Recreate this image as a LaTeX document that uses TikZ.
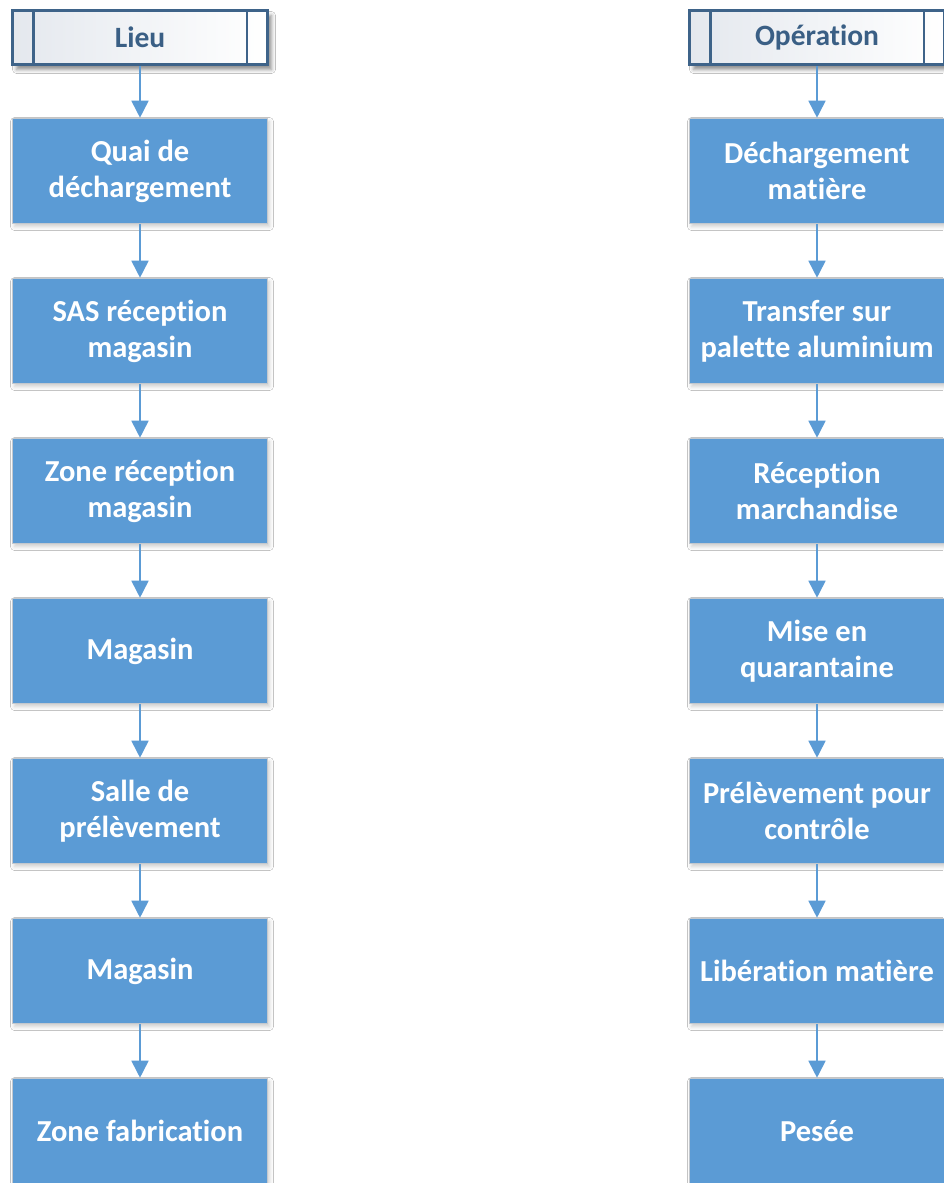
\documentclass[tikz,border=0pt]{standalone}
\usepackage{fontspec}
\setmainfont{Carlito}[Ligatures=NoCommon]
\usetikzlibrary{arrows.meta,shadows.blur,calc}
\definecolor{boxblue}{HTML}{5B9BD5}
\definecolor{boxedge}{HTML}{C3C8CE}
\definecolor{headedge}{HTML}{3E6389}
\definecolor{headtext}{HTML}{3A5F85}
\definecolor{headgray}{HTML}{E4E8EE}
\tikzset{
  x=1pt, y=-1pt,
  stepbox/.style={draw=boxedge, line width=1.6pt, fill=boxblue,
    minimum width=255pt, minimum height=105pt, inner sep=0pt,
    align=center, text=white,
    font=\fontsize{30.5}{36}\selectfont\bfseries,
    blur shadow={shadow xshift=2pt, shadow yshift=-3pt, shadow blur radius=4pt, shadow opacity=20}},
  headbox/.style={draw=headedge, line width=2.8pt,
    left color=headgray, right color=white,
    minimum width=255pt, minimum height=54pt, inner sep=0pt,
    text=headtext, font=\fontsize{29.5}{34}\selectfont\bfseries,
    blur shadow={shadow xshift=4pt, shadow yshift=-5pt, shadow blur radius=4pt, shadow opacity=45}},
  headbar/.style={draw=headedge, line width=2.8pt},
  flow/.style={draw=boxblue, line width=1.7pt, -{Triangle[width=17pt,length=17pt]}}
}
\begin{document}
\begin{tikzpicture}
\useasboundingbox[fill=white] (0,0) rectangle (943,1183);

% Column headers
\node[headbox] (hl) at (140,37.5) {Lieu};
\node[headbox] (hr) at (817,37.5) {Opération};
\foreach \h in {hl,hr}{
  \draw[headbar] ($(\h.north west)+(22,0)$) -- ($(\h.south west)+(22,0)$);
  \draw[headbar] ($(\h.north east)+(-22,0)$) -- ($(\h.south east)+(-22,0)$);
}

% Places
\node[stepbox] (l1) at (140,171) {Quai de\\déchargement};
\node[stepbox] (l2) at (140,331) {SAS réception\\magasin};
\node[stepbox] (l3) at (140,491) {Zone réception\\magasin};
\node[stepbox] (l4) at (140,651) {Magasin};
\node[stepbox] (l5) at (140,811) {Salle de\\prélèvement};
\node[stepbox] (l6) at (140,971) {Magasin};
\node[stepbox] (l7) at (140,1131) {Zone fabrication};

% Operations
\node[stepbox] (r1) at (817,171) {Déchargement\\matière};
\node[stepbox] (r2) at (817,331) {Transfer sur\\palette aluminium};
\node[stepbox] (r3) at (817,491) {Réception\\marchandise};
\node[stepbox] (r4) at (817,651) {Mise en\\quarantaine};
\node[stepbox] (r5) at (817,811) {Prélèvement pour\\contrôle};
\node[stepbox] (r6) at (817,971) {Libération matière};
\node[stepbox] (r7) at (817,1131) {Pesée};

% Flow arrows
\draw[flow] (hl) -- (l1);
\draw[flow] (hr) -- (r1);
\foreach \a/\b in {1/2,2/3,3/4,4/5,5/6,6/7}{
  \draw[flow] (l\a) -- (l\b);
  \draw[flow] (r\a) -- (r\b);
}
\end{tikzpicture}
\end{document}
